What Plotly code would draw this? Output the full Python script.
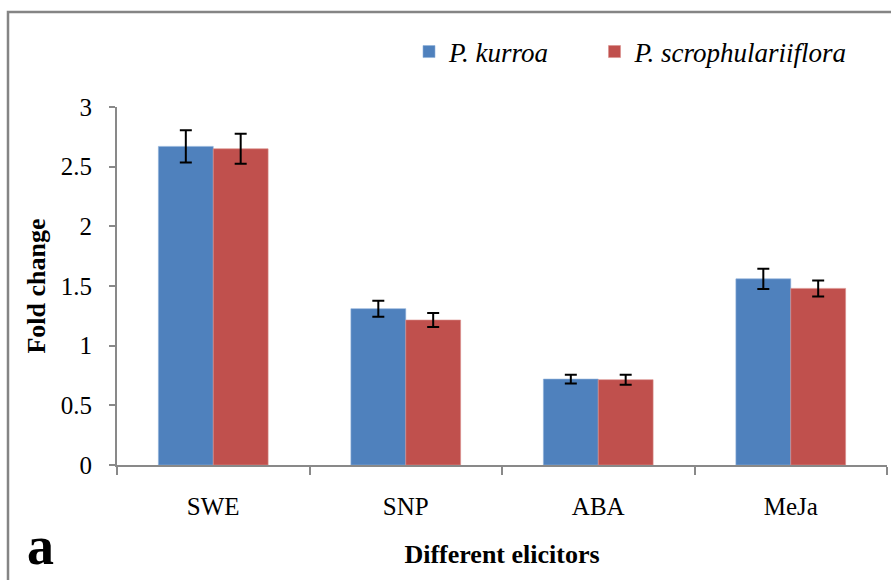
import plotly.graph_objects as go

# Fold change of gene expression under different elicitors
elicitors = ["SWE", "SNP", "ABA", "MeJa"]
kurroa_fc = [2.67, 1.31, 0.72, 1.56]
kurroa_err = [0.135, 0.067, 0.037, 0.085]
scroph_fc = [2.65, 1.215, 0.715, 1.48]
scroph_err = [0.125, 0.058, 0.042, 0.067]
y_ticks = [0, 0.5, 1, 1.5, 2, 2.5, 3]
y_tick_text = ["0", "0.5", "1", "1.5", "2", "2.5", "3"]

SERIF = "Liberation Serif"
W, H = 891, 580
L, R, T, B = 117, 4, 107, 115
NBSP = "\u00a0"

fig = go.Figure()
err_style = dict(type="data", color="black", thickness=2, width=6)
fig.add_trace(go.Bar(
    x=elicitors, y=kurroa_fc, name="<i>P. kurroa</i>" + NBSP * 6,
    marker=dict(color="#4F81BD", line=dict(color="#8FB0DA", width=0.6)),
    error_y=dict(array=kurroa_err, **err_style),
))
fig.add_trace(go.Bar(
    x=elicitors, y=scroph_fc, name="<i>P. scrophulariiflora</i>",
    marker=dict(color="#C0504D", line=dict(color="#DA8E8C", width=0.6)),
    error_y=dict(array=scroph_err, **err_style),
))

pw, ph = W - L - R, H - T - B
def px_x(p):
    return (p - L) / pw
def px_y(p):
    return (H - B - p) / ph

fig.update_layout(
    width=W, height=H,
    margin=dict(l=L, r=R, t=T, b=B, pad=0),
    paper_bgcolor="white", plot_bgcolor="white",
    barmode="group", bargap=0.43, bargroupgap=0,
    font=dict(family=SERIF, color="black", size=25),
    showlegend=True,
    legend=dict(
        orientation="h", x=px_x(409), y=px_y(52), xanchor="left", yanchor="middle",
        font=dict(family=SERIF, size=27, color="black"),
        itemwidth=30, tracegroupgap=0, bgcolor="rgba(0,0,0,0)", itemclick=False,
    ),
    xaxis=dict(
        type="category", showgrid=False, zeroline=False,
        showline=True, linecolor="#898989", linewidth=2,
        ticks="outside", tickson="boundaries", ticklen=8, tickwidth=2, tickcolor="#898989",
        tickfont=dict(family=SERIF, size=25, color="black"),
        ticklabelstandoff=18,
        title=dict(text="<b>Different elicitors</b>", standoff=26,
                   font=dict(family=SERIF, size=26, color="black")),
        range=[-0.5, 3.5],
    ),
    yaxis=dict(
        range=[0, 3], tickvals=y_ticks, ticktext=y_tick_text,
        showgrid=False, zeroline=False,
        showline=True, linecolor="#898989", linewidth=2,
        ticks="outside", ticklen=6, tickwidth=2, tickcolor="#898989",
        tickfont=dict(family=SERIF, size=25, color="black"),
        ticklabelstandoff=12,
        title=dict(text="<b>Fold change</b>", standoff=8,
                   font=dict(family=SERIF, size=26, color="black")),
    ),
    shapes=[dict(
        type="rect", xref="paper", yref="paper",
        x0=px_x(8), x1=px_x(900), y0=px_y(590), y1=px_y(12),
        line=dict(color="#858585", width=2.5), fillcolor="rgba(0,0,0,0)", layer="below",
    )],
    annotations=[dict(
        text="<b>a</b>", xref="paper", yref="paper",
        x=px_x(40), y=px_y(578), xanchor="center", yanchor="bottom",
        showarrow=False, font=dict(family=SERIF, size=54, color="black"),
    )],
)

fig.write_html("out.html")
